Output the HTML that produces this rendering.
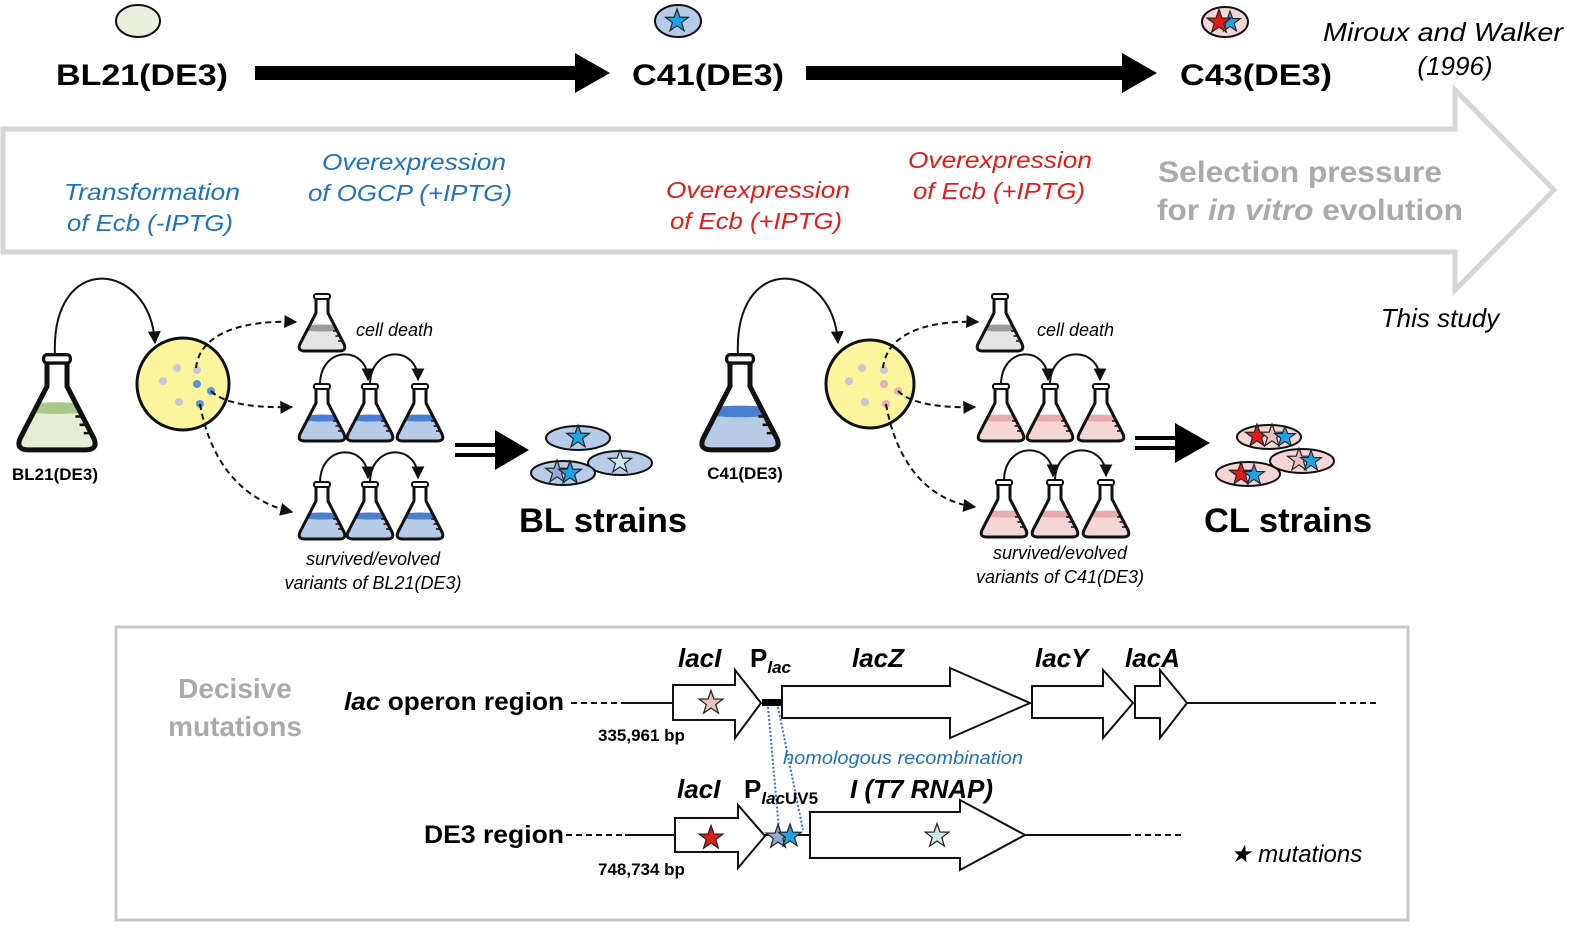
<!DOCTYPE html>
<html><head><meta charset="utf-8"><style>
html,body{margin:0;padding:0;background:#fff;}
svg{display:block;font-family:"Liberation Sans",sans-serif;}
</style></head><body>
<svg width="1575" height="929" viewBox="0 0 1575 929" xmlns="http://www.w3.org/2000/svg">
<defs>
<polygon id="star" points="0,-10 2.35,-3.24 9.51,-3.09 3.8,1.24 5.88,8.09 0,4 -5.88,8.09 -3.8,1.24 -9.51,-3.09 -2.35,-3.24" stroke="#222" stroke-width="1"/>
<clipPath id="fc"><path d="M-6,5 L-6,20 L-22,51 Q-25,58 -17,58 L17,58 Q25,58 22,51 L6,20 L6,5 Z"/></clipPath>
<g id="fo">
<path d="M-6,5 L-6,20 L-22,51 Q-25,58 -17,58 L17,58 Q25,58 22,51 L6,20 L6,5 Z" fill="none" stroke="#111" stroke-width="3" stroke-linejoin="round"/>
<rect x="-8" y="1" width="16" height="5" rx="2" fill="#fff" stroke="#111" stroke-width="2"/>
<path d="M11,38 H15 M13.5,43 H17.5 M16,48 H20" stroke="#111" stroke-width="1.5"/>
</g>
<g id="fBlue"><g clip-path="url(#fc)"><rect x="-26" y="34" width="52" height="26" fill="#b7cbe6"/><ellipse cx="0" cy="35" rx="23" ry="3.5" fill="#4a7fd0"/></g><use href="#fo"/></g>
<g id="fPink"><g clip-path="url(#fc)"><rect x="-26" y="34" width="52" height="26" fill="#f5d6d6"/><ellipse cx="0" cy="35" rx="23" ry="3.5" fill="#e8abad"/></g><use href="#fo"/></g>
<g id="fGray"><g clip-path="url(#fc)"><rect x="-26" y="34" width="52" height="26" fill="#e4e4e4"/><ellipse cx="0" cy="35" rx="23" ry="3.5" fill="#9c9c9c"/></g><use href="#fo"/></g>
<g id="fGreen"><g clip-path="url(#fc)"><rect x="-26" y="32" width="52" height="28" fill="#e5eed5"/><ellipse cx="0" cy="33" rx="23" ry="3.5" fill="#a8c88a"/></g><use href="#fo"/></g>
<marker id="ah" viewBox="0 0 10 10" refX="9" refY="5" markerWidth="6.5" markerHeight="6.5" orient="auto"><path d="M0,0 L10,5 L0,10 Z" fill="#111"/></marker>
</defs>

<ellipse cx="138" cy="21" rx="22" ry="16" fill="#eaf0de" stroke="#111" stroke-width="2"/>
<ellipse cx="678" cy="21" rx="23" ry="16" fill="#b7cbe6" stroke="#111" stroke-width="2"/>
<use href="#star" transform="translate(677,21) scale(1.2)" fill="#1fa3e6"/>
<ellipse cx="1225" cy="22" rx="23" ry="15" fill="#f5d6d6" stroke="#111" stroke-width="2"/>
<use href="#star" transform="translate(1230,22) scale(1.1)" fill="#1fa3e6"/>
<use href="#star" transform="translate(1219,22) scale(1.25)" fill="#e41b1b"/>

<text x="142" y="85" font-size="30" font-weight="bold" text-anchor="middle" textLength="172" lengthAdjust="spacingAndGlyphs">BL21(DE3)</text>
<text x="708" y="85" font-size="30" font-weight="bold" text-anchor="middle" textLength="152" lengthAdjust="spacingAndGlyphs">C41(DE3)</text>
<text x="1256" y="85" font-size="30" font-weight="bold" text-anchor="middle" textLength="152" lengthAdjust="spacingAndGlyphs">C43(DE3)</text>
<path d="M255,66 H575 V53 L610,73 L575,93 V80 H255 Z" fill="#000"/>
<path d="M806,66 H1122 V53 L1157,73 L1122,93 V80 H806 Z" fill="#000"/>
<text x="1443" y="41" font-size="26" font-style="italic" text-anchor="middle" textLength="240" lengthAdjust="spacingAndGlyphs">Miroux and Walker</text>
<text x="1455" y="75" font-size="26" font-style="italic" text-anchor="middle">(1996)</text>

<path d="M3,129 H1455 V90 L1554,190 L1455,290 V252 H3 Z" fill="#fff" stroke="#d6d6d6" stroke-width="5" stroke-linejoin="miter"/>
<g font-size="23" font-style="italic" text-anchor="middle">
<text x="152" y="200" fill="#1e72c0" textLength="176" lengthAdjust="spacingAndGlyphs">Transformation</text>
<text x="150" y="231" fill="#1e72c0" textLength="166" lengthAdjust="spacingAndGlyphs">of Ecb (-IPTG)</text>
<text x="414" y="170" fill="#1e72c0" textLength="184" lengthAdjust="spacingAndGlyphs">Overexpression</text>
<text x="410" y="201" fill="#1e72c0" textLength="204" lengthAdjust="spacingAndGlyphs">of OGCP (+IPTG)</text>
<text x="758" y="198" fill="#e41b1b" textLength="184" lengthAdjust="spacingAndGlyphs">Overexpression</text>
<text x="756" y="229" fill="#e41b1b" textLength="172" lengthAdjust="spacingAndGlyphs">of Ecb (+IPTG)</text>
<text x="1000" y="168" fill="#e41b1b" textLength="184" lengthAdjust="spacingAndGlyphs">Overexpression</text>
<text x="999" y="199" fill="#e41b1b" textLength="172" lengthAdjust="spacingAndGlyphs">of Ecb (+IPTG)</text>
</g>
<text x="1300" y="182" font-size="30" font-weight="bold" fill="#aaa" text-anchor="middle" textLength="284" lengthAdjust="spacingAndGlyphs">Selection pressure</text>
<text x="1310" y="220" font-size="30" font-weight="bold" fill="#aaa" text-anchor="middle" textLength="306" lengthAdjust="spacingAndGlyphs">for <tspan font-style="italic">in vitro</tspan> evolution</text>
<text x="1440" y="327" font-size="26" font-style="italic" text-anchor="middle">This study</text>

<path d="M55,356 C50,250 150,260 155,343" fill="none" stroke="#111" stroke-width="2" marker-end="url(#ah)"/>
<use href="#fGreen" transform="translate(57,353) scale(1.67)"/>
<text x="55" y="480" font-size="17" font-weight="bold" text-anchor="middle">BL21(DE3)</text>
<circle cx="183" cy="384" r="46" fill="#fbf59e" stroke="#111" stroke-width="3"/>
<g fill="#c8c8d2"><circle cx="177" cy="368" r="4"/><circle cx="163" cy="381" r="4"/><circle cx="179" cy="402" r="4"/><circle cx="197" cy="370" r="4"/></g>
<g fill="#5b94d6"><circle cx="197" cy="384" r="4"/><circle cx="211" cy="391" r="4"/><circle cx="200" cy="404" r="4"/></g>
<g fill="none" stroke="#111" stroke-width="2" stroke-dasharray="6,4">
<path d="M196,368 C200,330 250,320 296,322" marker-end="url(#ah)"/>
<path d="M211,391 C225,405 260,408 292,407" marker-end="url(#ah)"/>
<path d="M200,404 C210,460 240,500 292,512" marker-end="url(#ah)"/>
</g>
<use href="#fGray" transform="translate(322,293)"/>
<text x="356" y="336" font-size="18" font-style="italic">cell death</text>
<g fill="none" stroke="#111" stroke-width="2">
<path d="M320,385 C320,345 368,345 368,380" marker-end="url(#ah)"/>
<path d="M370,385 C370,345 418,345 418,380" marker-end="url(#ah)"/>
<path d="M320,483 C320,443 368,443 368,478" marker-end="url(#ah)"/>
<path d="M370,483 C370,443 418,443 418,478" marker-end="url(#ah)"/>
</g>
<use href="#fBlue" transform="translate(322,383)"/><use href="#fBlue" transform="translate(370,383)"/><use href="#fBlue" transform="translate(420,383)"/>
<use href="#fBlue" transform="translate(322,481)"/><use href="#fBlue" transform="translate(370,481)"/><use href="#fBlue" transform="translate(420,481)"/>
<text x="373" y="565" font-size="18" font-style="italic" text-anchor="middle">survived/evolved</text>
<text x="373" y="589" font-size="18" font-style="italic" text-anchor="middle">variants of BL21(DE3)</text>
<path d="M455,445 H498 M455,455 H498" stroke="#000" stroke-width="4"/>
<path d="M495,430 L529,450 L495,470 Z" fill="#000"/>
<ellipse cx="578" cy="438" rx="32" ry="12" fill="#b7cbe6" stroke="#111" stroke-width="2"/>
<use href="#star" transform="translate(578,437) scale(1.2)" fill="#1fa3e6"/>
<ellipse cx="620" cy="463" rx="32" ry="12" fill="#b7cbe6" stroke="#111" stroke-width="2"/>
<use href="#star" transform="translate(620,462) scale(1.2)" fill="#cfe8ee"/>
<ellipse cx="563" cy="473" rx="32" ry="12" fill="#b7cbe6" stroke="#111" stroke-width="2"/>
<use href="#star" transform="translate(557,472) scale(1.2)" fill="#8fa9d3"/>
<use href="#star" transform="translate(570,473) scale(1.2)" fill="#1fa3e6"/>
<text x="603" y="532" font-size="34" font-weight="bold" text-anchor="middle" textLength="168" lengthAdjust="spacingAndGlyphs">BL strains</text>

<path d="M738,356 C733,250 833,260 838,343" fill="none" stroke="#111" stroke-width="2" marker-end="url(#ah)"/>
<use href="#fBlue" transform="translate(740,353) scale(1.67)"/>
<text x="745" y="479" font-size="17" font-weight="bold" text-anchor="middle">C41(DE3)</text>
<circle cx="870" cy="384" r="44" fill="#fbf59e" stroke="#111" stroke-width="3"/>
<g fill="#c8c8d2"><circle cx="862" cy="368" r="4"/><circle cx="849" cy="381" r="4"/><circle cx="865" cy="402" r="4"/><circle cx="884" cy="370" r="4"/></g>
<g fill="#e8aeb8"><circle cx="884" cy="384" r="4"/><circle cx="898" cy="391" r="4"/><circle cx="886" cy="404" r="4"/></g>
<g fill="none" stroke="#111" stroke-width="2" stroke-dasharray="6,4">
<path d="M883,368 C887,330 935,320 978,322" marker-end="url(#ah)"/>
<path d="M898,391 C912,405 945,408 975,407" marker-end="url(#ah)"/>
<path d="M886,404 C896,460 925,500 975,507" marker-end="url(#ah)"/>
</g>
<use href="#fGray" transform="translate(1000,293)"/>
<text x="1037" y="336" font-size="18" font-style="italic">cell death</text>
<g fill="none" stroke="#111" stroke-width="2">
<path d="M1001,385 C1001,345 1048,345 1048,380" marker-end="url(#ah)"/>
<path d="M1050,385 C1050,345 1100,345 1100,380" marker-end="url(#ah)"/>
<path d="M1004,481 C1004,441 1053,441 1053,476" marker-end="url(#ah)"/>
<path d="M1055,481 C1055,441 1106,441 1106,476" marker-end="url(#ah)"/>
</g>
<use href="#fPink" transform="translate(1001,383)"/><use href="#fPink" transform="translate(1050,383)"/><use href="#fPink" transform="translate(1101,383)"/>
<use href="#fPink" transform="translate(1004,479)"/><use href="#fPink" transform="translate(1055,479)"/><use href="#fPink" transform="translate(1106,479)"/>
<text x="1060" y="559" font-size="18" font-style="italic" text-anchor="middle">survived/evolved</text>
<text x="1060" y="583" font-size="18" font-style="italic" text-anchor="middle">variants of C41(DE3)</text>
<path d="M1135,438 H1178 M1135,448 H1178" stroke="#000" stroke-width="4"/>
<path d="M1175,423 L1210,443 L1175,463 Z" fill="#000"/>
<ellipse cx="1269" cy="437" rx="32" ry="12" fill="#f5d6d6" stroke="#111" stroke-width="2"/>
<use href="#star" transform="translate(1257,436) scale(1.2)" fill="#e41b1b"/>
<use href="#star" transform="translate(1272,436) scale(1.2)" fill="#e8c0c0"/>
<use href="#star" transform="translate(1285,437) scale(1.1)" fill="#1fa3e6"/>
<ellipse cx="1302" cy="461" rx="32" ry="12" fill="#f5d6d6" stroke="#111" stroke-width="2"/>
<use href="#star" transform="translate(1299,460) scale(1.2)" fill="#e8c0c0"/>
<use href="#star" transform="translate(1311,461) scale(1.1)" fill="#1fa3e6"/>
<ellipse cx="1248" cy="474" rx="32" ry="12" fill="#f5d6d6" stroke="#111" stroke-width="2"/>
<use href="#star" transform="translate(1241,474) scale(1.2)" fill="#e41b1b"/>
<use href="#star" transform="translate(1254,475) scale(1.1)" fill="#1fa3e6"/>
<text x="1288" y="532" font-size="34" font-weight="bold" text-anchor="middle" textLength="168" lengthAdjust="spacingAndGlyphs">CL strains</text>

<rect x="116" y="627" width="1292" height="293" fill="none" stroke="#c8c8c8" stroke-width="3"/>
<text x="235" y="698" font-size="28" font-weight="bold" fill="#aaa" text-anchor="middle">Decisive</text>
<text x="235" y="736" font-size="28" font-weight="bold" fill="#aaa" text-anchor="middle">mutations</text>
<text x="564" y="710" font-size="25" font-weight="bold" text-anchor="end" textLength="220" lengthAdjust="spacingAndGlyphs"><tspan font-style="italic">lac</tspan> operon region</text>
<text x="564" y="843" font-size="25" font-weight="bold" text-anchor="end" textLength="140" lengthAdjust="spacingAndGlyphs">DE3 region</text>
<g stroke="#111" stroke-width="2" fill="none">
<path d="M571,703 H625" stroke-dasharray="6,4"/>
<path d="M625,703 H673 M1187,703 H1330"/>
<path d="M1330,703 H1380" stroke-dasharray="6,4"/>
<path d="M566,835 H625" stroke-dasharray="6,4"/>
<path d="M625,835 H675 M762,835 H810 M1025,835 H1125"/>
<path d="M1125,835 H1185" stroke-dasharray="6,4"/>
</g>
<g stroke="#111" stroke-width="2" fill="#fff" stroke-linejoin="miter">
<path d="M673,685 H735 V670 L761,703 L735,738 V720 H673 Z"/>
<path d="M782,686 H950 V668 L1030,703 L950,738 V718 H782 Z"/>
<path d="M1032,686 H1103 V670 L1133,703 L1103,738 V718 H1032 Z"/>
<path d="M1135,686 H1160 V670 L1187,703 L1160,738 V718 H1135 Z"/>
<path d="M675,818 H738 V805 L765,836 L738,868 V852 H675 Z"/>
<path d="M810,812 H960 V800 L1025,835 L960,870 V858 H810 Z"/>
</g>
<rect x="762" y="699" width="19" height="7" fill="#000"/>
<use href="#star" transform="translate(711,703) scale(1.25)" fill="#eac4c4"/>
<use href="#star" transform="translate(711,838) scale(1.25)" fill="#e41b1b"/>
<use href="#star" transform="translate(937,836) scale(1.25)" fill="#cfe8ee"/>
<g stroke="#3a6fc0" stroke-width="2" stroke-dasharray="2,2" fill="none">
<path d="M768,707 L779,830 M778,707 L803,830"/>
</g>
<use href="#star" transform="translate(778,837) scale(1.25)" fill="#8fa9d3"/>
<use href="#star" transform="translate(790,836) scale(1.2)" fill="#1fa3e6"/>
<text x="783" y="764" font-size="18" font-style="italic" fill="#1e72c0" textLength="240" lengthAdjust="spacingAndGlyphs">homologous recombination</text>
<g font-size="26" font-weight="bold">
<text x="678" y="667" font-style="italic">lacI</text>
<text x="750" y="667">P<tspan font-size="17" font-style="italic" dy="6">lac</tspan></text>
<text x="852" y="667" font-style="italic">lacZ</text>
<text x="1035" y="667" font-style="italic">lacY</text>
<text x="1125" y="667" font-style="italic">lacA</text>
<text x="677" y="798" font-style="italic">lacI</text>
<text x="744" y="798">P<tspan font-size="17" dy="6"><tspan font-style="italic">lac</tspan>UV5</tspan></text>
<text x="850" y="798" font-style="italic">I (T7 RNAP)</text>
</g>
<text x="598" y="741" font-size="17" font-weight="bold">335,961 bp</text>
<text x="598" y="875" font-size="17" font-weight="bold">748,734 bp</text>
<text x="1230" y="862" font-size="24" font-style="italic">★ mutations</text>
</svg>
</body></html>
